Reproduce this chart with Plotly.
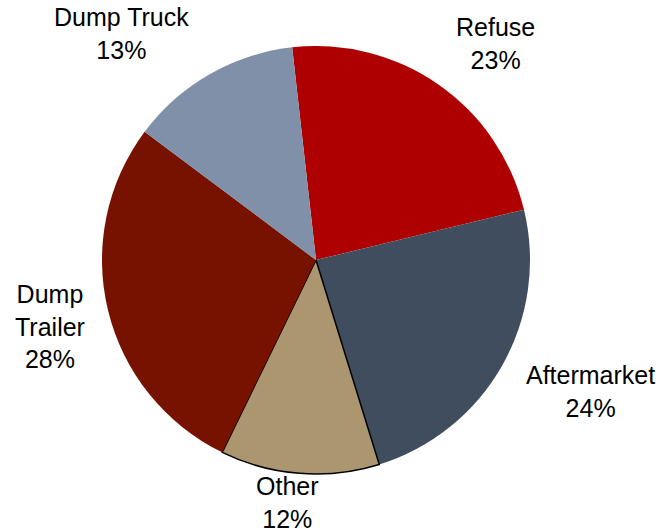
import math
import plotly.graph_objects as go

labels = ["Refuse", "Aftermarket", "Other", "Dump Trailer", "Dump Truck"]
display_labels = ["Refuse", "Aftermarket", "Other", "Dump<br>Trailer", "Dump Truck"]
values = [23, 24, 12, 28, 13]
colors = ["#AE0000", "#404D5E", "#AB9670", "#771100", "#8090A8"]
line_widths = [0, 0, 1.5, 0, 0]

# style: label offsets (pixels) from the slice's outer edge at its mid-angle
label_shift = [(57, -41), (88, 26), (-12, 29), (-58, 16), (-88, -41)]

W, H = 664, 532
cx, cy, r = 316, 260, 214
rotation = -6.4

fig = go.Figure(go.Pie(
    labels=labels,
    values=values,
    textinfo="none",
    sort=False,
    direction="clockwise",
    rotation=rotation,
    marker=dict(colors=colors, line=dict(color="black", width=line_widths)),
    domain=dict(x=[(cx - r) / W, (cx + r) / W], y=[1 - (cy + r) / H, 1 - (cy - r) / H]),
    showlegend=False,
    hoverinfo="label+percent",
))

total = sum(values)
cum = 0
annotations = []
for lab, v, (dx, dy) in zip(display_labels, values, label_shift):
    mid = rotation + (cum + v / 2) / total * 360
    cum += v
    a = math.radians(mid)
    ex = cx + r * math.sin(a)
    ey = cy - r * math.cos(a)
    annotations.append(dict(
        x=ex / W, y=1 - ey / H, xref="paper", yref="paper",
        xshift=dx, yshift=-dy,
        text=f"{lab}<br>{round(v / total * 100)}%",
        showarrow=False, xanchor="center", yanchor="middle", align="center",
        font=dict(family="Liberation Sans, Arial, sans-serif", size=25, color="black"),
    ))

fig.update_layout(
    width=W, height=H,
    margin=dict(l=0, r=0, t=0, b=0),
    paper_bgcolor="white",
    plot_bgcolor="white",
    annotations=annotations,
)
fig.write_html("out.html")
